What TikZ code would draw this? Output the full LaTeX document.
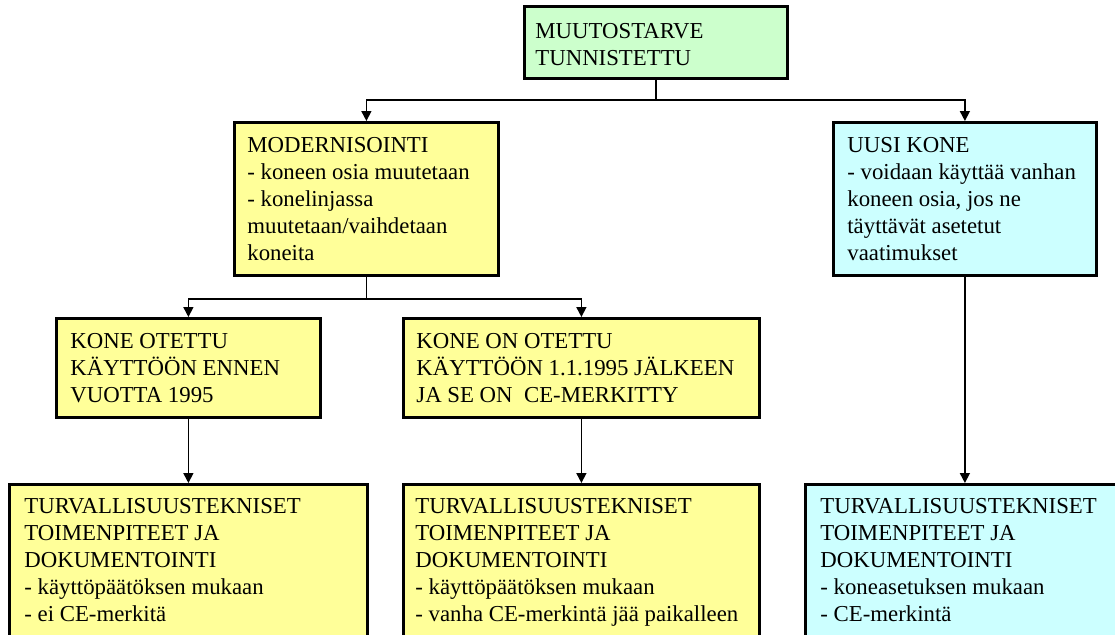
\documentclass[tikz,border=0pt]{standalone}
\usepackage{fontspec}
\setmainfont{Liberation Serif}
\usetikzlibrary{arrows.meta,calc}
\definecolor{boxgreen}{HTML}{CCFFCC}
\definecolor{boxyellow}{HTML}{FFFF99}
\definecolor{boxcyan}{HTML}{CCFFFF}
\tikzset{
  flowbox/.style={draw=black, line width=1.4pt, inner sep=0pt, anchor=north west},
  boxtext/.style={anchor=base west, inner sep=0pt, font=\fontsize{11.4pt}{13.5pt}\selectfont},
  link/.style={line width=0.8pt},
  arrowlink/.style={link, -{Triangle[length=5pt,width=5pt]}},
}
\newcommand{\boxlines}[1]{\parbox[t]{200pt}{\raggedright #1}}
\begin{document}
\begin{tikzpicture}[x=0.5pt,y=-0.5pt]
\useasboundingbox (0,0) rectangle (1115,634);
\clip (0,0) rectangle (1115,634);

% boxes
\node[flowbox, fill=boxgreen,  minimum width=131.5pt, minimum height=36pt]   (top)  at (523,5)   {};
\node[flowbox, fill=boxyellow, minimum width=132pt,   minimum height=76.5pt] (mod)  at (233,121) {};
\node[flowbox, fill=boxcyan,   minimum width=131.5pt, minimum height=76.5pt] (uusi) at (832,121) {};
\node[flowbox, fill=boxyellow, minimum width=132pt,   minimum height=49.5pt] (ko1)  at (55,317)  {};
\node[flowbox, fill=boxyellow, minimum width=178pt,   minimum height=49.5pt] (ko2)  at (402,317) {};
\node[flowbox, fill=boxyellow, minimum width=179pt,   minimum height=90pt]   (b1)   at (8,483)   {};
\node[flowbox, fill=boxyellow, minimum width=178pt,   minimum height=90pt]   (b2)   at (402,483) {};
\node[flowbox, fill=boxcyan,   minimum width=159.5pt, minimum height=90pt]   (b3)   at (804,483) {};

% texts
\node[boxtext] (ttop) at ($(top.north west)+(12,33)$) {\boxlines{MUUTOSTARVE\\TUNNISTETTU}};
\node[boxtext] (tmod) at ($(mod.north west)+(14,31)$) {\boxlines{MODERNISOINTI\\- koneen osia muutetaan\\- konelinjassa\\muutetaan/vaihdetaan\\koneita}};
\node[boxtext] (tuusi) at ($(uusi.north west)+(15,31)$) {\boxlines{UUSI KONE\\- voidaan käyttää vanhan\\koneen osia, jos ne\\täyttävät asetetut\\vaatimukset}};
\node[boxtext] (tko1) at ($(ko1.north west)+(15,31)$) {\boxlines{KONE OTETTU\\KÄYTTÖÖN ENNEN\\VUOTTA 1995}};
\node[boxtext] (tko2) at ($(ko2.north west)+(14,31)$) {\parbox[t]{180pt}{\raggedright KONE ON OTETTU\\KÄYTTÖÖN 1.1.1995 JÄLKEEN\\JA SE ON\ \ CE-MERKITTY}};
\node[boxtext] (tb1) at ($(b1.north west)+(16,30)$) {\boxlines{TURVALLISUUSTEKNISET\\TOIMENPITEET JA\\DOKUMENTOINTI\\- käyttöpäätöksen mukaan\\- ei CE-merkitä}};
\node[boxtext] (tb2) at ($(b2.north west)+(13,30)$) {\parbox[t]{180pt}{\raggedright TURVALLISUUSTEKNISET\\TOIMENPITEET JA\\DOKUMENTOINTI\\- käyttöpäätöksen mukaan\\- vanha CE-merkintä jää paikalleen}};
\node[boxtext] (tb3) at ($(b3.north west)+(16,30)$) {\boxlines{TURVALLISUUSTEKNISET\\TOIMENPITEET JA\\DOKUMENTOINTI\\- koneasetuksen mukaan\\- CE-merkintä}};

% connectors
\coordinate (j1) at ($(top.south)+(0,20)$);
\draw[link] (top.south) -- (j1);
\draw[arrowlink] (j1) -| (mod.north);
\draw[arrowlink] (j1) -| (uusi.north);
\coordinate (j2) at ($(mod.south)+(0,22)$);
\draw[link] (mod.south) -- (j2);
\draw[arrowlink] (j2) -| (ko1.north);
\draw[arrowlink] (j2) -| (ko2.north);
\draw[arrowlink] (ko1.south) -- (b1.north);
\draw[arrowlink] (ko2.south) -- (b2.north);
\draw[arrowlink] (uusi.south) -- (b3.north);
\end{tikzpicture}
\end{document}
